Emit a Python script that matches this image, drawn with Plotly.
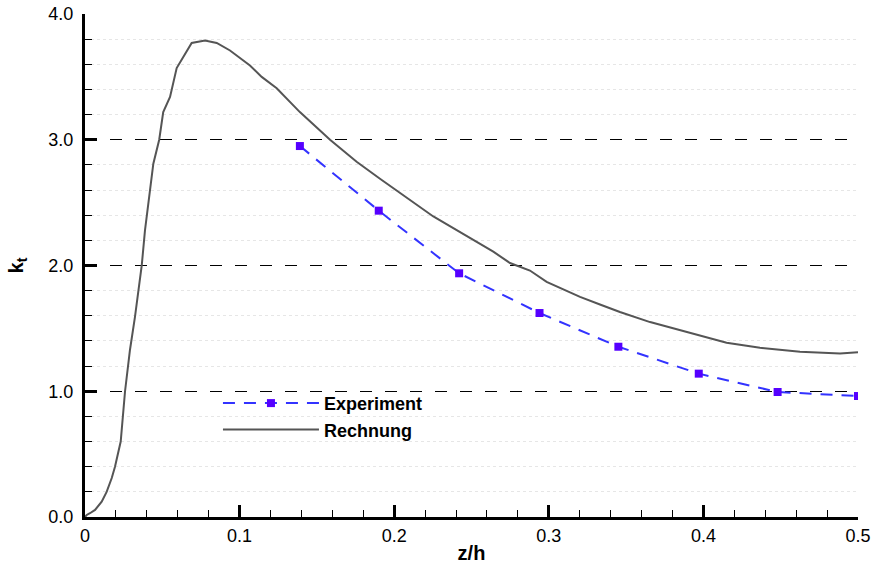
import plotly.graph_objects as go

# Experiment data
exp_x = [0.139, 0.190, 0.242, 0.294, 0.345, 0.397, 0.448, 0.500]
exp_y = [2.95, 2.436, 1.938, 1.622, 1.354, 1.14, 0.994, 0.962]

# Rechnung (computation) curve
calc_x = [0.0, 0.0011, 0.0032, 0.0065, 0.0108, 0.014, 0.0173, 0.0194, 0.0231,
          0.0259, 0.0291, 0.0323, 0.0367, 0.0388, 0.0442, 0.048, 0.0506, 0.055,
          0.0593, 0.0636, 0.069, 0.0776, 0.0852, 0.0938, 0.1067, 0.1143, 0.124,
          0.139, 0.1585, 0.1757, 0.1908, 0.2253, 0.2512, 0.2641, 0.2749, 0.2878,
          0.2986, 0.3202, 0.3331, 0.346, 0.3655, 0.3957, 0.415, 0.4366, 0.4625,
          0.4884, 0.500]
calc_y = [0.0, 0.016, 0.03, 0.056, 0.122, 0.2, 0.31, 0.4, 0.6,
          1.0, 1.33, 1.59, 2.0, 2.28, 2.81, 3.0, 3.22, 3.34,
          3.57, 3.66, 3.77, 3.79, 3.77, 3.71, 3.59, 3.50, 3.41,
          3.22, 3.0, 2.825, 2.69, 2.39, 2.20, 2.11, 2.02, 1.96,
          1.87, 1.75, 1.69, 1.63, 1.55, 1.45, 1.386, 1.346, 1.314,
          1.30, 1.31]

fig = go.Figure()
fig.add_trace(go.Scatter(
    x=exp_x, y=exp_y, mode="lines+markers", name="<b>Experiment</b>",
    line=dict(color="#3333ff", width=2, dash="12px,9px"),
    marker=dict(symbol="square", size=8, color="#5500ff"),
))
fig.add_trace(go.Scatter(
    x=calc_x, y=calc_y, mode="lines", name="<b>Rechnung</b>",
    line=dict(color="#555555", width=2),
))

FAM = "Liberation Sans, Arial, sans-serif"
axis_font = dict(family=FAM, size=18, color="black")

fig.update_layout(
    width=872, height=564,
    margin=dict(l=85, r=14, t=14, b=47),
    plot_bgcolor="white", paper_bgcolor="white",
    font=axis_font,
    showlegend=True,
    legend=dict(
        x=0.172, y=0.2, xanchor="left", yanchor="middle",
        bgcolor="rgba(0,0,0,0)", font=dict(size=18, family=FAM, color="black"),
        itemwidth=96, tracegroupgap=0,
    ),
    xaxis=dict(
        range=[0, 0.5], showline=True, linecolor="black", linewidth=3,
        ticks="inside", ticklen=12, tickwidth=3, tickcolor="black",
        tickvals=[0, 0.1, 0.2, 0.3, 0.4, 0.5],
        ticktext=["0", "0.1", "0.2", "0.3", "0.4", "0.5"],
        showgrid=False, zeroline=False, automargin=False,
        minor=dict(dtick=0.02, ticks="inside", ticklen=7, tickwidth=1, tickcolor="black", showgrid=False),
        title=dict(text="<b>z/h</b>", font=dict(size=20, family=FAM), standoff=2),
        tickfont=axis_font,
    ),
    yaxis=dict(
        range=[0, 4], showline=True, linecolor="black", linewidth=3,
        ticks="inside", ticklen=12, tickwidth=3, tickcolor="black",
        dtick=1, tickformat=".1f", ticklabelstandoff=5,
        showgrid=True, gridcolor="black", gridwidth=1, griddash="12px,13px",
        zeroline=False, automargin=False,
        minor=dict(dtick=0.2, ticks="inside", ticklen=7, tickwidth=1, tickcolor="black",
                   showgrid=True, gridcolor="#e6e6e6", griddash="dot", gridwidth=1),
        title=dict(text="<b>k<sub>t</sub></b>", font=dict(size=20, family=FAM), standoff=20),
        tickfont=axis_font,
    ),
)

fig.write_html("out.html")
